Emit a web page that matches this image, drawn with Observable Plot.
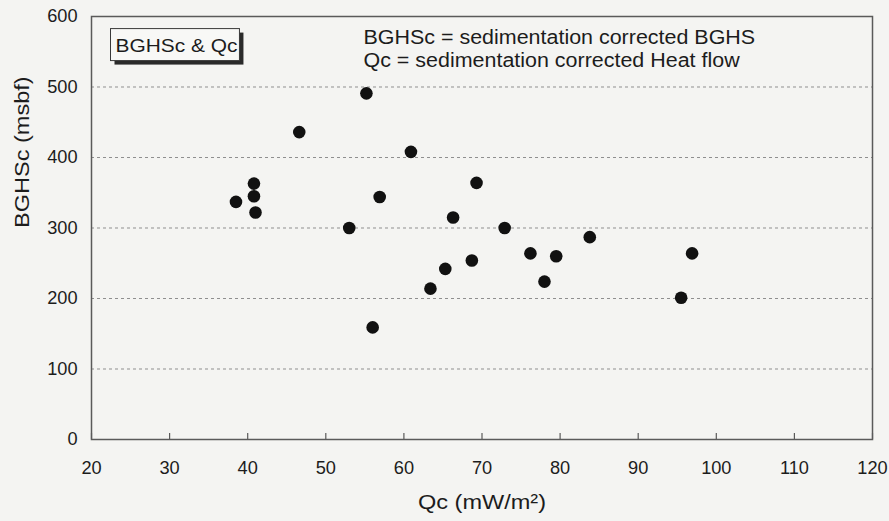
<!DOCTYPE html>
<html>
<head>
<meta charset="utf-8">
<script src="https://cdn.jsdelivr.net/npm/d3@7"></script>
<script src="https://cdn.jsdelivr.net/npm/@observablehq/plot@0.6"></script>
<style>
  html, body { margin: 0; padding: 0; background: #f4f4f2; }
  #chart svg { display: block; }
</style>
</head>
<body>
<div id="chart"></div>
<script>
// Data
const qc =    [38.5, 40.8, 40.8, 41.0, 46.6, 53.0, 55.2, 56.0, 56.9, 60.9, 63.4, 65.3, 66.3, 68.7, 69.3, 72.9, 76.2, 78.0, 79.5, 83.8, 95.5, 96.9];
const bghsc = [337,  363,  345,  322,  436,  300,  491,  159,  344,  408,  214,  242,  315,  254,  364,  300,  264,  224,  260,  287,  201,  264];
const xTicks = [20, 30, 40, 50, 60, 70, 80, 90, 100, 110, 120];
const yTicks = [0, 100, 200, 300, 400, 500, 600];
const gridLines = [100, 200, 300, 400, 500];
const boxLabel = "BGHSc & Qc";
const noteLines = ["BGHSc = sedimentation corrected BGHS", "Qc = sedimentation corrected Heat flow"];
const xTitle = "Qc (mW/m²)";
const yTitle = "BGHSc (msbf)";

const points = qc.map((x, i) => ({x, y: bghsc[i]}));
const font = "Liberation Sans, Arial, sans-serif";
const ink = "#1c1c1c";

const chart = Plot.plot({
  width: 889,
  height: 521,
  marginLeft: 91,
  marginRight: 17,
  marginTop: 16,
  marginBottom: 82,
  style: {fontFamily: font, background: "transparent", color: ink},
  x: {domain: [20, 120]},
  y: {domain: [0, 600]},
  marks: [
    Plot.ruleY(gridLines, {stroke: "#8f8f8f", strokeDasharray: "3,3", strokeWidth: 1}),
    Plot.frame({stroke: "#5a5a5a", strokeWidth: 1.5}),
    Plot.axisX(xTicks, {tickSize: -6, text: null, stroke: "#5a5a5a", strokeWidth: 1.2, label: null}),
    Plot.axisX(xTicks, {tickSize: 0, tickPadding: 22, fontSize: 17.5, label: null, fill: ink}),
    Plot.axisY(yTicks, {tickSize: 0, tickPadding: 14, fontSize: 17.5, label: null, fill: ink}),
    Plot.dot(points, {x: "x", y: "y", r: 6.3, fill: "#111", stroke: "none"}),
    Plot.text([yTitle], {frameAnchor: "left", lineAnchor: "middle", rotate: -90, dx: -69, fontSize: 21, fill: ink, className: "title-text"}),
    Plot.text([xTitle], {frameAnchor: "bottom", lineAnchor: "middle", dy: 63, fontSize: 21, fill: ink, className: "title-text"}),
    Plot.text([boxLabel], {frameAnchor: "top-left", lineAnchor: "middle", dx: 24, dy: 29, textAnchor: "start", fontSize: 19, fill: ink, className: "boxlabel"}),
    Plot.text([noteLines[0]], {frameAnchor: "top-left", lineAnchor: "middle", dx: 272, dy: 21, textAnchor: "start", fontSize: 19.5, fill: ink, className: "note-text"}),
    Plot.text([noteLines[1]], {frameAnchor: "top-left", lineAnchor: "middle", dx: 272, dy: 44.5, textAnchor: "start", fontSize: 19.5, fill: ink, className: "note-text"})
  ]
});

document.getElementById("chart").appendChild(chart);

// The scanned original has slightly wide lettering: widen glyphs horizontally
function stretch(nodes, f) {
  nodes.forEach(t => {
    const L = t.getComputedTextLength();
    t.setAttribute("textLength", (L * f).toFixed(2));
    t.setAttribute("lengthAdjust", "spacingAndGlyphs");
  });
}
stretch(chart.querySelectorAll('g[aria-label="x-axis tick label"] text, g[aria-label="y-axis tick label"] text'), 1.04);
stretch(chart.querySelectorAll(".title-text text"), 1.12);
stretch(chart.querySelectorAll(".note-text text"), 1.10);
stretch(chart.querySelectorAll(".boxlabel text"), 1.10);

// Boxed label with drop shadow, sized from the text itself
const lbl = chart.querySelector(".boxlabel text");
if (lbl) {
  const bb = lbl.getBBox();
  const padL = 5, padR = 2, padT = 6, padB = 5;
  const g = lbl.parentNode;
  const tf = lbl.getAttribute("transform");
  const ns = "http://www.w3.org/2000/svg";
  const mk = (dx, dy, fill, stroke) => {
    const r = document.createElementNS(ns, "rect");
    r.setAttribute("x", bb.x - padL + dx);
    r.setAttribute("y", bb.y - padT + dy);
    r.setAttribute("width", bb.width + padL + padR);
    r.setAttribute("height", bb.height + padT + padB);
    r.setAttribute("fill", fill);
    if (stroke) { r.setAttribute("stroke", stroke); r.setAttribute("stroke-width", "1"); }
    if (tf) r.setAttribute("transform", tf);
    return r;
  };
  const shadow = mk(4, 4, "#2a2a2a");
  const box = mk(0, 0, "#f8f8f6", "#3a3a3a");
  g.insertBefore(box, lbl);
  g.insertBefore(shadow, box);
}
</script>
</body>
</html>
